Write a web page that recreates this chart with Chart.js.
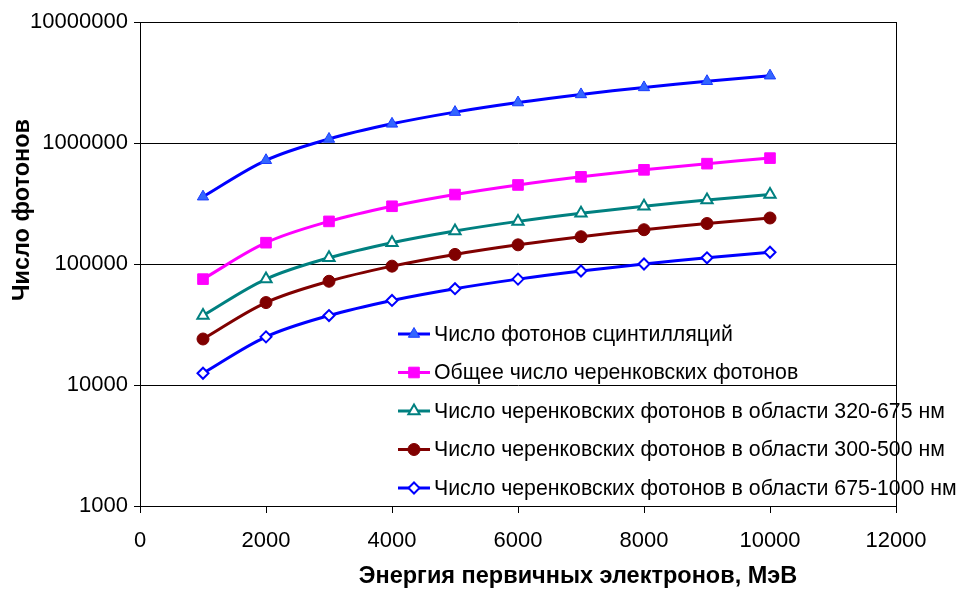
<!DOCTYPE html>
<html lang="ru">
<head>
<meta charset="utf-8">
<title>Число фотонов</title>
<script src="https://cdn.jsdelivr.net/npm/chart.js@4.4.1/dist/chart.umd.min.js"></script>
<style>
  html, body { margin: 0; padding: 0; background: #fff; }
  #wrap { width: 960px; height: 590px; position: relative; }
</style>
</head>
<body>
<div id="wrap"><canvas id="c" width="960" height="590"></canvas></div>
<script>
// Энергия первичных электронов, МэВ
const energies = [1000, 2000, 3000, 4000, 5000, 6000, 7000, 8000, 9000, 10000];

// Число фотонов для каждой серии
const scintillation = [360000, 720000, 1080000, 1440000, 1800000, 2160000, 2520000, 2880000, 3240000, 3600000];
const cherenkovTotal = [75000, 150000, 225000, 300000, 375000, 450000, 525000, 600000, 675000, 750000];
const cherenkov320_675 = [37500, 75000, 112500, 150000, 187500, 225000, 262500, 300000, 337500, 375000];
const cherenkov300_500 = [24000, 48000, 72000, 96000, 120000, 144000, 168000, 192000, 216000, 240000];
const cherenkov675_1000 = [12500, 25000, 37500, 50000, 62500, 75000, 87500, 100000, 112500, 125000];

const seriesLabels = [
  'Число фотонов сцинтилляций',
  'Общее число черенковских фотонов',
  'Число черенковских фотонов в области 320-675 нм',
  'Число черенковских фотонов в области 300-500 нм',
  'Число черенковских фотонов в области 675-1000 нм'
];

const yTicks = [1000, 10000, 100000, 1000000, 10000000];
const xTitle = 'Энергия первичных электронов, МэВ';
const yTitle = 'Число фотонов';

const FONT = '"Liberation Sans", Arial, sans-serif';

function pts(vals) {
  return vals.map((v, i) => ({ x: energies[i], y: v }));
}

const styles = [
  { color: '#0000FF', style: 'triangle', radius: 6.5, fill: '#3366FF', border: '#1a3cff', bw: 1 },
  { color: '#FF00FF', style: 'rect', radius: 7.5, fill: '#FF00FF', border: '#FF00FF', bw: 1 },
  { color: '#008080', style: 'triangle', radius: 6.5, fill: '#FFFFFF', border: '#008080', bw: 2 },
  { color: '#800000', style: 'circle', radius: 6, fill: '#800000', border: '#800000', bw: 1 },
  { color: '#0000FF', style: 'rectRot', radius: 5.5, fill: '#FFFFFF', border: '#0000FF', bw: 2 }
];

const seriesData = [scintillation, cherenkovTotal, cherenkov320_675, cherenkov300_500, cherenkov675_1000];

const datasets = seriesData.map((vals, i) => ({
  label: seriesLabels[i],
  data: pts(vals),
  borderColor: styles[i].color,
  borderWidth: 3,
  tension: 0.35,
  pointStyle: styles[i].style,
  pointRadius: styles[i].radius,
  pointBackgroundColor: styles[i].fill,
  pointBorderColor: styles[i].border,
  pointBorderWidth: styles[i].bw,
  fill: false
}));

// Рамка, заголовки осей и легенда внутри области построения
const decorations = {
  id: 'decorations',
  afterDatasetsDraw(chart) {
    const ctx = chart.ctx;
    const a = chart.chartArea;
    ctx.save();
    // правая граница области построения
    ctx.strokeStyle = '#000';
    ctx.lineWidth = 1;
    ctx.beginPath();
    ctx.moveTo(Math.round(a.right) + 0.5, a.top);
    ctx.lineTo(Math.round(a.right) + 0.5, a.bottom);
    ctx.stroke();

    // легенда
    const legX = 398, legY0 = 334, legStep = 38.5;
    ctx.font = '21.3px ' + FONT;
    ctx.textBaseline = 'middle';
    ctx.textAlign = 'left';
    chart.data.datasets.forEach((ds, i) => {
      const y = legY0 + i * legStep;
      ctx.strokeStyle = ds.borderColor;
      ctx.lineWidth = 3;
      ctx.beginPath();
      ctx.moveTo(legX, y);
      ctx.lineTo(legX + 32, y);
      ctx.stroke();
      ctx.fillStyle = ds.pointBackgroundColor;
      ctx.strokeStyle = ds.pointBorderColor;
      ctx.lineWidth = ds.pointBorderWidth;
      Chart.helpers.drawPoint(ctx, { pointStyle: ds.pointStyle, radius: ds.pointRadius, borderWidth: ds.pointBorderWidth, rotation: 0 }, legX + 16, y);
      ctx.fillStyle = '#000';
      ctx.fillText(ds.label, legX + 36, y + 1);
    });

    // заголовки осей
    ctx.fillStyle = '#000';
    ctx.font = 'bold 23.5px ' + FONT;
    ctx.textAlign = 'center';
    ctx.textBaseline = 'middle';
    ctx.fillText(xTitle, 578, 577);
    ctx.translate(23, 210);
    ctx.rotate(-Math.PI / 2);
    ctx.fillText(yTitle, 0, 0);
    ctx.restore();
  }
};

new Chart(document.getElementById('c'), {
  type: 'line',
  data: { datasets },
  options: {
    responsive: false,
    animation: false,
    layout: { padding: { top: 22, right: 64, left: 0, bottom: 0 } },
    plugins: { legend: { display: false }, tooltip: { enabled: false } },
    scales: {
      x: {
        type: 'linear',
        min: 0,
        max: 12000,
        ticks: {
          stepSize: 2000,
          color: '#000',
          font: { family: FONT, size: 22 },
          padding: 15,
          maxRotation: 0,
          callback: (v) => String(v)
        },
        grid: { drawOnChartArea: false, drawTicks: true, tickLength: 7, color: '#000' },
        border: { display: true, color: '#000', width: 1 },
        afterFit(scale) { scale.height = 84; }
      },
      y: {
        type: 'logarithmic',
        min: 1000,
        max: 10000000,
        afterBuildTicks(scale) { scale.ticks = yTicks.map(v => ({ value: v })); },
        ticks: {
          color: '#000',
          font: { family: FONT, size: 22 },
          padding: 6,
          callback: (v) => String(v)
        },
        grid: { color: '#000', lineWidth: 1, drawTicks: true, tickLength: 6 },
        border: { display: true, color: '#000', width: 1 },
        afterFit(scale) { scale.width = 140; }
      }
    }
  },
  plugins: [decorations]
});
</script>
</body>
</html>
